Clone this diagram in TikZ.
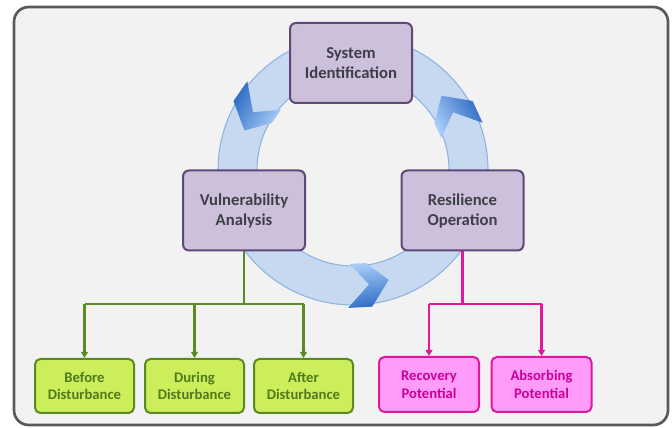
\documentclass[tikz,border=0pt]{standalone}
\usepackage{fontspec}
\setmainfont{Carlito}
\usetikzlibrary{arrows.meta,calc}
\definecolor{framefill}{HTML}{F2F2F2}
\definecolor{framedraw}{HTML}{595959}
\definecolor{purfill}{HTML}{CCC0DA}
\definecolor{purdraw}{HTML}{5F497A}
\definecolor{purtext}{HTML}{3F3F4A}
\definecolor{grnfill}{HTML}{CCEE5A}
\definecolor{grndraw}{HTML}{5A8A22}
\definecolor{grntext}{HTML}{4F7A1E}
\definecolor{pnkfill}{HTML}{FF9CFA}
\definecolor{pnkdraw}{HTML}{E0189E}
\definecolor{pnktext}{HTML}{CC0099}
\definecolor{ringfill}{HTML}{C6D9F1}
\definecolor{ringdraw}{HTML}{8DB4E2}
\definecolor{chevdark}{HTML}{2E6CC4}
\definecolor{chevlight}{HTML}{A6CBF7}
\tikzset{
  mainbox/.style={draw=purdraw, fill=purfill, line width=1.5pt, rounded corners=4.5pt,
    minimum width=91.5pt, minimum height=60pt, inner sep=0pt, align=center,
    text=purtext, font=\fontsize{12.5}{15}\selectfont\bfseries},
  grnbox/.style={draw=grndraw, fill=grnfill, line width=1.5pt, rounded corners=4pt,
    minimum width=74.25pt, minimum height=40.5pt, inner sep=0pt, align=center,
    text=grntext, font=\fontsize{11}{13.3}\selectfont\bfseries},
  pnkbox/.style={draw=pnkdraw, fill=pnkfill, line width=1.5pt, rounded corners=4pt,
    minimum width=75pt, minimum height=41.25pt, inner sep=0pt, align=center,
    text=pnktext, font=\fontsize{11}{13.3}\selectfont\bfseries},
  grnline/.style={draw=grndraw, line width=1.6pt},
  pnkline/.style={draw=pnkdraw, line width=1.6pt},
  tipped/.style={-{Triangle[length=4.5pt,width=5pt]}},
}
\begin{document}
\begin{tikzpicture}[x=0.75pt,y=0.75pt]
\useasboundingbox (0,0) rectangle (672,428);
% frame
\draw[fill=framefill, draw=framedraw, line width=2pt, rounded corners=11pt] (14,3) rectangle (668,421);
% ring
\coordinate (C) at (353,258);
\fill[ringfill, draw=ringdraw, line width=0.8pt, even odd rule] (C) circle (135) (C) circle (96);
% chevrons
\foreach \a in {-82,30,150}{
  \pgfmathsetmacro{\b}{\a-10}
  \pgfmathsetmacro{\c}{\a}
  \pgfmathsetmacro{\t}{\a+10}
  \pgfmathsetmacro{\s}{mod(\a+270,360)}
  \shade[top color=chevdark, bottom color=chevlight, shading angle=\s]
    ($(C)+(\b:138)$) -- ($(C)+(\c:138)$) -- ($(C)+(\t:115.5)$) -- ($(C)+(\c:94)$)
    -- ($(C)+(\b:94)$) -- ($(C)+(\c:115.5)$) -- cycle;
}
% main boxes
\node[mainbox] (sys) at (351,365) {System\\Identification};
\node[mainbox] (vul) at (244,217.5) {Vulnerability\\Analysis};
\node[mainbox] (res) at (462.5,217.5) {Resilience\\Operation};
% green boxes
\node[grnbox] (bef) at (84.5,42) {Before\\Disturbance};
\node[grnbox] (dur) at (194.5,42) {During\\Disturbance};
\node[grnbox] (aft) at (303.5,42) {After\\Disturbance};
% pink boxes
\node[pnkbox] (rec) at (429,43.5) {Recovery\\Potential};
\node[pnkbox] (abs) at (541.5,43.5) {Absorbing\\Potential};
% green connectors
\coordinate (gj) at (vul.south |- 0,124);
\draw[grnline] (vul.south) -- (gj);
\draw[grnline] (bef.north |- gj) -- (aft.north |- gj);
\draw[grnline,tipped] (bef.north |- gj) -- (bef.north);
\draw[grnline,tipped] (dur.north |- gj) -- (dur.north);
\draw[grnline,tipped] (aft.north |- gj) -- (aft.north);
% pink connectors
\coordinate (pj) at (res.south |- 0,124);
\draw[pnkline] (res.south) -- (pj);
\draw[pnkline] (rec.north |- pj) -- (abs.north |- pj);
\draw[pnkline,tipped] (rec.north |- pj) -- (rec.north);
\draw[pnkline,tipped] (abs.north |- pj) -- (abs.north);
\end{tikzpicture}
\end{document}
